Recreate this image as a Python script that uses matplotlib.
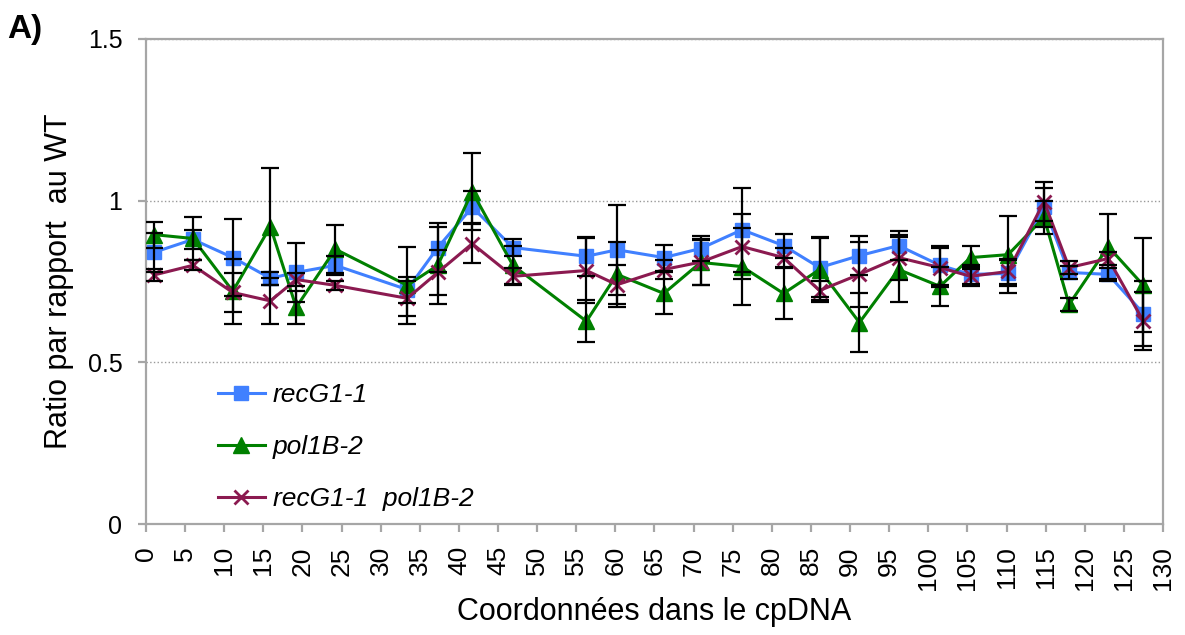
import numpy as np
import matplotlib.pyplot as plt

plt.rcParams['font.family'] = ['Liberation Sans', 'DejaVu Sans']

# positions along the cpDNA (kb)
coords = [1.0, 6.0, 11.1, 15.9, 19.2, 24.2, 33.4, 37.3, 41.7, 46.9, 56.3, 60.2, 66.2,
          70.9, 76.2, 81.5, 86.1, 91.2, 96.2, 101.5, 105.4, 110.2, 114.8, 118.0, 123.0, 127.5]

recg = [0.84, 0.88, 0.824, 0.76, 0.778, 0.80, 0.725, 0.855, 0.98, 0.855, 0.828, 0.848, 0.824,
        0.852, 0.91, 0.861, 0.793, 0.83, 0.861, 0.80, 0.772, 0.775, 0.98, 0.778, 0.772, 0.651]
recg_err = [0.06, 0.03, 0.12, 0.02, 0.09, 0.03, 0.04, 0.075, 0.05, 0.025, 0.06, 0.14, 0.04,
            0.04, 0.13, 0.037, 0.09, 0.06, 0.045, 0.06, 0.03, 0.04, 0.06, 0.02, 0.02, 0.10]

pol = [0.895, 0.883, 0.72, 0.92, 0.67, 0.85, 0.738, 0.80, 1.028, 0.80, 0.627, 0.772, 0.713,
       0.809, 0.796, 0.713, 0.787, 0.623, 0.787, 0.735, 0.824, 0.833, 0.948, 0.679, 0.858, 0.738]
pol_err = [0.04, 0.065, 0.10, 0.18, 0.05, 0.075, 0.12, 0.12, 0.12, 0.06, 0.065, 0.10, 0.065,
           0.07, 0.12, 0.08, 0.10, 0.09, 0.10, 0.06, 0.035, 0.12, 0.05, 0.02, 0.10, 0.145]

double = [0.77, 0.80, 0.716, 0.69, 0.756, 0.738, 0.698, 0.778, 0.867, 0.766, 0.784, 0.74, 0.787,
          0.81, 0.858, 0.824, 0.722, 0.772, 0.824, 0.793, 0.766, 0.781, 0.997, 0.793, 0.821, 0.627]
double_err = [0.02, 0.015, 0.06, 0.07, 0.02, 0.013, 0.055, 0.07, 0.06, 0.025, 0.10, 0.06, 0.03,
              0.07, 0.10, 0.03, 0.03, 0.10, 0.07, 0.06, 0.03, 0.04, 0.06, 0.02, 0.02, 0.09]

labels = ['recG1-1', 'pol1B-2', 'recG1-1  pol1B-2']

fig = plt.figure(figsize=(11.85, 6.35), dpi=100)
ax = fig.add_axes([0.1232, 0.1748, 0.8582, 0.7638])

series = [(recg, recg_err, '#4080FF', 's', 10.5, labels[0]),
          (pol, pol_err, '#008000', '^', 11, labels[1]),
          (double, double_err, '#8B1A50', 'x', 10, labels[2])]
for vals, err, col, mk, ms, lab in series:
    ax.errorbar(coords, vals, yerr=err, fmt='none', ecolor='black', elinewidth=1.6,
                capsize=6.5, capthick=1.6, zorder=4)
    ax.plot(coords, vals, color=col, marker=mk, markersize=ms, lw=2.2,
            mew=2 if mk == 'x' else 1, label=lab, zorder=3)

ax.set_xlim(0, 130)
ax.set_ylim(0, 1.5)
ax.set_xticks(np.arange(0, 131, 5))
ax.set_xticklabels([str(v) for v in range(0, 131, 5)], rotation=90, fontsize=19)
ax.set_yticks([0, 0.5, 1, 1.5])
ax.set_yticklabels(['0', '0.5', '1', '1.5'], fontsize=18)
ax.yaxis.grid(True, linestyle=':', color='#999999', lw=1)
ax.set_axisbelow(True)
for s in ax.spines.values():
    s.set_color('#A6A6A6')
    s.set_linewidth(1.6)
ax.tick_params(axis='both', direction='out', length=6, width=1.6, color='#A6A6A6')
ax.tick_params(axis='y', pad=11)
ax.tick_params(axis='x', pad=10)

ax.set_xlabel('Coordonnées dans le cpDNA', fontsize=22, labelpad=5)
ax.set_ylabel('Ratio par rapport  au WT', fontsize=22, labelpad=10)

leg = ax.legend(loc='upper left', bbox_to_anchor=(0.047, 0.34), frameon=False,
                prop={'size': 19, 'style': 'italic'}, handlelength=1.8,
                labelspacing=1.07, handletextpad=0.3)

fig.text(0.006, 0.94, 'A)', fontsize=24, fontweight='bold')

fig.savefig('out.png', dpi=100)
